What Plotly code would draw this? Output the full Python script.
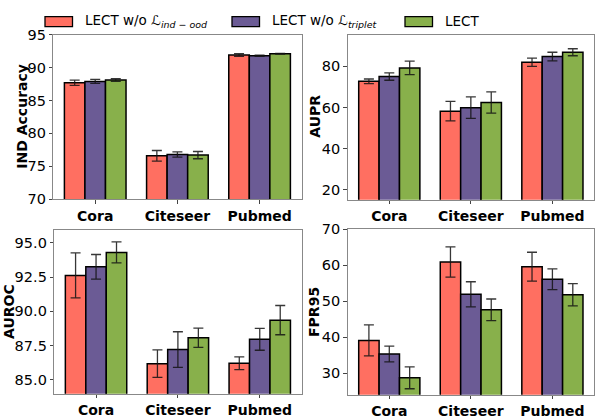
import plotly.graph_objects as go

categories = ["Cora", "Citeseer", "Pubmed"]
series_names = ["LECT w/o ℒ<sub><i>ind − ood</i></sub>", "LECT w/o ℒ<sub><i>triplet</i></sub>", "LECT"]
colors = ["#FF6F61", "#6B5B95", "#88B04B"]

# values per metric: [series][category]
ind_acc = [[87.7, 76.6, 91.9], [87.9, 76.8, 91.8], [88.1, 76.7, 92.1]]
ind_acc_err = [[0.4, 0.8, 0.2], [0.3, 0.4, 0.1], [0.2, 0.55, 0.05]]
aupr = [[72.7, 58.2, 81.9], [75.0, 59.9, 84.7], [79.2, 62.4, 86.8]]
aupr_err = [[1.1, 4.7, 2.0], [1.8, 5.2, 2.1], [3.3, 5.2, 1.7]]
auroc = [[92.62, 86.17, 86.2], [93.25, 87.2, 87.95], [94.3, 88.06, 89.35]]
auroc_err = [[1.64, 1.0, 0.47], [0.9, 1.3, 0.8], [0.77, 0.7, 1.07]]
fpr95 = [[39.1, 60.9, 59.6], [35.3, 51.9, 56.1], [28.7, 47.6, 51.8]]
fpr95_err = [[4.3, 4.2, 4.0], [2.2, 3.5, 2.9], [3.05, 3.0, 3.1]]

panels = [
    ("IND Accuracy", ind_acc, ind_acc_err, [70, 95], [70, 75, 80, 85, 90, 95], "d"),
    ("AUPR", aupr, aupr_err, [15.2, 95.2], [20, 40, 60, 80], "d"),
    ("AUROC", auroc, auroc_err, [83.97, 95.96], [85.0, 87.5, 90.0, 92.5, 95.0], ".1f"),
    ("FPR95", fpr95, fpr95_err, [24, 70], [30, 40, 50, 60, 70], "d"),
]

W, H = 597, 420
def px(x0, x1):
    return [x0 / W, x1 / W]
def py(y_top, y_bot):
    return [1 - y_bot / H, 1 - y_top / H]

domains = [
    (px(53.3, 301.5), py(27.7, 198.8)),
    (px(347.7, 594), py(28, 199.3)),
    (px(54.3, 301.5), py(230.5, 401)),
    (px(347.7, 594), py(230, 402)),
]
title_pos = [(22, 113), (315, 113), (9, 316), (314, 316)]

FONT = "DejaVu Sans"
fig = go.Figure()
layout = dict(
    width=W, height=H, margin=dict(l=0, r=0, t=0, b=0),
    paper_bgcolor="white", plot_bgcolor="white",
    barmode="group", bargap=0.25, bargroupgap=0,
    showlegend=False, font=dict(family=FONT, color="black"),
)
annotations = []
shapes = []
for i, (title, vals, errs, yr, tv, fmt) in enumerate(panels):
    n = "" if i == 0 else str(i + 1)
    for s in range(3):
        fig.add_trace(go.Bar(
            x=[0, 1, 2], y=vals[s], name=series_names[s],
            marker=dict(color=colors[s], line=dict(color="black", width=1.5)),
            error_y=dict(type="data", array=errs[s], color="rgba(20,20,20,0.85)", thickness=1.3, width=5),
            xaxis="x" + n, yaxis="y" + n, offsetgroup=str(s),
        ))
    xd, yd = domains[i]
    layout["xaxis" + n] = dict(
        domain=xd, anchor="y" + n, range=[-0.51, 2.51],
        tickvals=[0, 1, 2], ticktext=categories,
        tickfont=dict(family=FONT, size=14, weight="bold", color="black"),
        ticks="outside", ticklen=3.5, tickcolor="#444", showline=True, linecolor="#888",
        linewidth=1, mirror=True, showgrid=False, zeroline=False,
    )
    layout["yaxis" + n] = dict(
        domain=yd, anchor="x" + n, range=yr, tickvals=tv, tickformat=fmt,
        tickfont=dict(family=FONT, size=14.5, color="black"),
        ticks="outside", ticklen=3.5, tickcolor="#444", showline=True, linecolor="#888",
        linewidth=1, mirror=True, showgrid=False, zeroline=False,
    )
    tx, ty = title_pos[i]
    annotations.append(dict(
        text="<b>" + title + "</b>", x=tx / W, y=1 - ty / H, xref="paper", yref="paper",
        showarrow=False, textangle=-90, font=dict(family=FONT, size=14, color="black"),
        xanchor="center", yanchor="middle",
    ))

# legend
leg_box_x = [45, 232, 405]
leg_text_x = [83, 270, 443]
for s in range(3):
    shapes.append(dict(
        type="rect", xref="paper", yref="paper",
        x0=leg_box_x[s] / W, x1=(leg_box_x[s] + 27.5) / W,
        y0=1 - 19.3 / H, y1=1 - 9 / H,
        fillcolor=colors[s], line=dict(color="black", width=1.3),
    ))
    annotations.append(dict(
        text=series_names[s], x=leg_text_x[s] / W, y=1 - 14 / H, xref="paper", yref="paper",
        showarrow=False, xanchor="left", yanchor="middle",
        font=dict(family=FONT, size=13.5, color="black"),
    ))
layout["annotations"] = annotations
layout["shapes"] = shapes
fig.update_layout(**layout)
fig.write_html(
    "out.html",
    config={"displayModeBar": False},
    post_script="document.body.style.margin='0px';document.body.style.padding='0px';",
)
